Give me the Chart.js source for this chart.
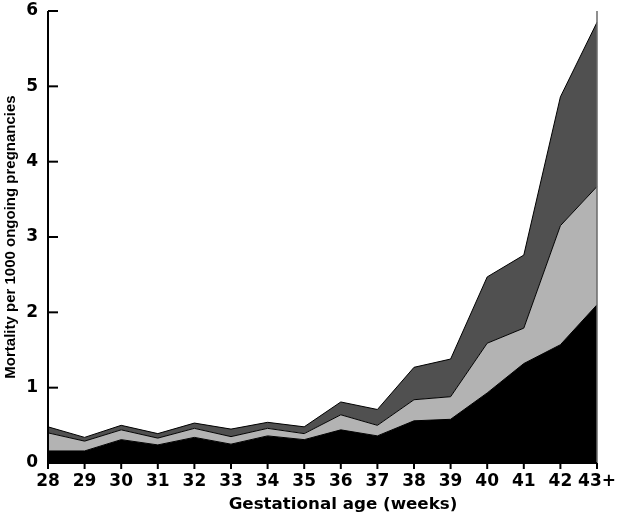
<!DOCTYPE html>
<html>
<head>
<meta charset="utf-8">
<script src="https://cdn.jsdelivr.net/npm/chart.js@4/dist/chart.umd.min.js"></script>
<style>
html,body{margin:0;padding:0;background:#fff;}
#wrap{width:630px;height:519px;position:relative;}
</style>
</head>
<body>
<div id="wrap"><canvas id="c" width="630" height="519"></canvas></div>
<script>
const categories = ["28","29","30","31","32","33","34","35","36","37","38","39","40","41","42","43+"];
const yTicks = [0,1,2,3,4,5,6];
// layer thicknesses (stacked), mortality per 1000 ongoing pregnancies
const bottomLayer = [0.16,0.16,0.31,0.24,0.34,0.25,0.36,0.31,0.44,0.36,0.56,0.58,0.93,1.32,1.57,2.10];
const middleLayer = [0.24,0.13,0.13,0.09,0.12,0.10,0.10,0.08,0.20,0.14,0.28,0.30,0.66,0.47,1.58,1.57];
const topLayer    = [0.08,0.05,0.06,0.06,0.07,0.10,0.08,0.09,0.17,0.21,0.43,0.50,0.88,0.97,1.71,2.18];
const xTitle = "Gestational age (weeks)";
const yTitle = "Mortality per 1000 ongoing pregnancies";

const axisPlugin = {
  id: 'axisPlugin',
  afterDraw(chart) {
    const ctx = chart.ctx;
    const a = chart.chartArea;
    const xs = chart.scales.x, ys = chart.scales.y;
    ctx.save();
    // right edge line
    ctx.strokeStyle = '#6a6a6a';
    ctx.lineWidth = 1.5;
    ctx.beginPath();
    ctx.moveTo(a.right, ys.getPixelForValue(6));
    ctx.lineTo(a.right, ys.getPixelForValue(0));
    ctx.stroke();
    // y axis line + inward ticks
    ctx.strokeStyle = '#000';
    ctx.lineWidth = 2;
    ctx.beginPath();
    ctx.moveTo(a.left, ys.getPixelForValue(6));
    ctx.lineTo(a.left, ys.getPixelForValue(0) + 1);
    ctx.stroke();
    yTicks.forEach(v => {
      const y = ys.getPixelForValue(v);
      ctx.beginPath();
      ctx.moveTo(a.left, y);
      ctx.lineTo(a.left + 10, y);
      ctx.stroke();
    });
    // x axis line + downward ticks
    ctx.beginPath();
    ctx.moveTo(a.left, a.bottom);
    ctx.lineTo(a.right, a.bottom);
    ctx.stroke();
    categories.forEach((c, i) => {
      const x = xs.getPixelForValue(i);
      ctx.beginPath();
      ctx.moveTo(x, a.bottom);
      ctx.lineTo(x, a.bottom + 6);
      ctx.stroke();
    });
    // x title
    ctx.fillStyle = '#000';
    ctx.font = 'bold 16.7px "DejaVu Sans", sans-serif';
    ctx.textAlign = 'center';
    ctx.textBaseline = 'middle';
    ctx.fillText(xTitle, 343, 505);
    ctx.restore();
  }
};

new Chart(document.getElementById('c'), {
  type: 'line',
  data: {
    labels: categories,
    datasets: [
      { data: bottomLayer, backgroundColor: '#000000', borderColor: '#000000', borderWidth: 1, fill: 'origin', pointRadius: 0, tension: 0 },
      { data: middleLayer, backgroundColor: '#b3b3b3', borderColor: '#000000', borderWidth: 1, fill: '-1', pointRadius: 0, tension: 0 },
      { data: topLayer,    backgroundColor: '#505050', borderColor: '#000000', borderWidth: 1, fill: '-1', pointRadius: 0, tension: 0 }
    ]
  },
  options: {
    responsive: false,
    animation: false,
    devicePixelRatio: 1,
    layout: { padding: { left: 0, right: 33, top: 11, bottom: 0 } },
    plugins: { legend: { display: false }, tooltip: { enabled: false } },
    scales: {
      x: {
        offset: false,
        grid: { display: false, drawTicks: false },
        border: { display: false },
        ticks: { color: '#000', font: { family: '"DejaVu Sans", sans-serif', size: 17, weight: 'bold' }, padding: 8, maxRotation: 0, autoSkip: false },
        afterFit(s) { s.height = 56; s.paddingLeft = 0; s.paddingRight = 0; }
      },
      y: {
        stacked: true,
        min: 0, max: 6,
        grid: { display: false, drawTicks: false },
        border: { display: false },
        ticks: { stepSize: 1, color: '#000', font: { family: '"DejaVu Sans", sans-serif', size: 17, weight: 'bold' }, padding: 10 },
        title: { display: true, text: yTitle, color: '#000', font: { family: '"Liberation Sans", Arial, sans-serif', size: 15, weight: 'bold' }, padding: { top: 2, bottom: 0 } },
        afterFit(s) { s.width = 48; s.paddingTop = 0; s.paddingBottom = 0; }
      }
    }
  },
  plugins: [axisPlugin]
});
</script>
</body>
</html>
